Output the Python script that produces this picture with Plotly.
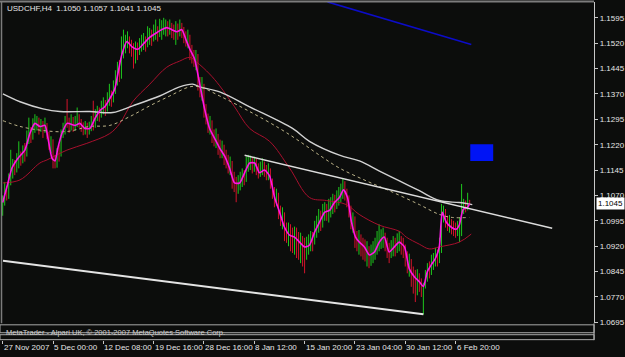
import plotly.graph_objects as go

# ---------------- data ----------------
first_open = 1.1030
closes = [
    1.1049, 1.1085, 1.1070, 1.1112, 1.1140, 1.1155, 1.1148, 1.1172, 1.1183, 1.1175,
    1.1195, 1.1190, 1.1230, 1.1248, 1.1240, 1.1275, 1.1283, 1.1290, 1.1272, 1.1280,
    1.1268, 1.1277, 1.1250, 1.1222, 1.1230, 1.1176, 1.1168, 1.1195, 1.1190, 1.1250,
    1.1262, 1.1290, 1.1283, 1.1270, 1.1285, 1.1276, 1.1280, 1.1292, 1.1283, 1.1274,
    1.1266, 1.1272, 1.1262, 1.1268, 1.1282, 1.1276, 1.1302, 1.1312, 1.1305, 1.1326,
    1.1330, 1.1324, 1.1348, 1.1356, 1.1350, 1.1380, 1.1400, 1.1428, 1.1420, 1.1485,
    1.1505, 1.1522, 1.1528, 1.1514, 1.1508, 1.1495, 1.1500, 1.1492, 1.1512, 1.1516,
    1.1522, 1.1515, 1.1536, 1.1538, 1.1532, 1.1548, 1.1552, 1.1545, 1.1560, 1.1562,
    1.1566, 1.1568, 1.1562, 1.1565, 1.1558, 1.1552, 1.1556, 1.1553, 1.1560, 1.1558,
    1.1545, 1.1530, 1.1538, 1.1500, 1.1490, 1.1472, 1.1480, 1.1410, 1.1385, 1.1395,
    1.1325, 1.1300, 1.1278, 1.1285, 1.1250, 1.1240, 1.1246, 1.1215, 1.1205, 1.1212,
    1.1185, 1.1175, 1.1158, 1.1165, 1.1125, 1.1108, 1.1100, 1.1104, 1.1112, 1.1125,
    1.1118, 1.1150, 1.1163, 1.1168, 1.1160, 1.1166, 1.1155, 1.1140, 1.1145, 1.1152,
    1.1145, 1.1138, 1.1142, 1.1110, 1.1085, 1.1064, 1.1070, 1.1025, 1.1005, 1.1012,
    1.0976, 1.0962, 1.0968, 1.0950, 1.0948, 1.0955, 1.0940, 1.0934, 1.0938, 1.0920,
    1.0916, 1.0918, 1.0924, 1.0935, 1.0930, 1.0965, 1.0978, 1.0990, 1.0984, 1.1015,
    1.1020, 1.1014, 1.1026, 1.1035, 1.1046, 1.1040, 1.1058, 1.1064, 1.1076, 1.1088,
    1.1080, 1.1062, 1.1030, 1.0995, 1.1002, 1.0948, 1.0940, 1.0946, 1.0925, 1.0918,
    1.0910, 1.0915, 1.0894, 1.0898, 1.0903, 1.0912, 1.0925, 1.0932, 1.0940, 1.0947,
    1.0935, 1.0915, 1.0903, 1.0910, 1.0918, 1.0912, 1.0930, 1.0932, 1.0926, 1.0918,
    1.0895, 1.0870, 1.0876, 1.0842, 1.0832, 1.0826, 1.0835, 1.0815, 1.0790, 1.0806,
    1.0828, 1.0845, 1.0840, 1.0865, 1.0875, 1.0883, 1.0878, 1.0918, 1.1010, 1.1020,
    1.0995, 1.0985, 1.0992, 1.0975, 1.0972, 1.0968, 1.0975, 1.0985, 1.1030, 1.1040,
    1.1034, 1.1050, 1.1045,
]
highs = [
    1.1070, 1.1110, 1.1098, 1.1135, 1.1205, 1.1178, 1.1175, 1.1195, 1.1230, 1.1200,
    1.1218, 1.1225, 1.1262, 1.1300, 1.1272, 1.1298, 1.1310, 1.1305, 1.1300, 1.1296,
    1.1290, 1.1300, 1.1284, 1.1258, 1.1245, 1.1236, 1.1190, 1.1210, 1.1220, 1.1265,
    1.1285, 1.1305, 1.1355, 1.1300, 1.1310, 1.1302, 1.1305, 1.1330, 1.1310, 1.1296,
    1.1286, 1.1290, 1.1285, 1.1288, 1.1305, 1.1350, 1.1325, 1.1335, 1.1330, 1.1350,
    1.1360, 1.1352, 1.1375, 1.1400, 1.1380, 1.1410, 1.1440, 1.1465, 1.1470, 1.1540,
    1.1560, 1.1545, 1.1555, 1.1540, 1.1530, 1.1520, 1.1525, 1.1522, 1.1535, 1.1545,
    1.1550, 1.1540, 1.1570, 1.1565, 1.1560, 1.1575, 1.1590, 1.1570, 1.1592, 1.1588,
    1.1595, 1.1590, 1.1585, 1.1590, 1.1580, 1.1575, 1.1585, 1.1578, 1.1590, 1.1580,
    1.1568, 1.1555, 1.1560, 1.1545, 1.1515, 1.1500, 1.1500, 1.1488, 1.1420, 1.1420,
    1.1400, 1.1340, 1.1312, 1.1305, 1.1292, 1.1265, 1.1268, 1.1252, 1.1235, 1.1232,
    1.1220, 1.1205, 1.1190, 1.1185, 1.1172, 1.1140, 1.1125, 1.1130, 1.1140, 1.1150,
    1.1145, 1.1185, 1.1190, 1.1188, 1.1182, 1.1185, 1.1178, 1.1165, 1.1170, 1.1180,
    1.1170, 1.1160, 1.1165, 1.1150, 1.1120, 1.1095, 1.1090, 1.1078, 1.1040, 1.1035,
    1.1020, 1.0990, 1.0990, 1.0985, 1.0975, 1.0978, 1.0975, 1.0962, 1.0960, 1.0950,
    1.0945, 1.0948, 1.0955, 1.0965, 1.0962, 1.0995, 1.1010, 1.1030, 1.1025, 1.1045,
    1.1050, 1.1045, 1.1060, 1.1065, 1.1075, 1.1072, 1.1085, 1.1095, 1.1105, 1.1120,
    1.1112, 1.1090, 1.1070, 1.1040, 1.1020, 1.1008, 1.0965, 1.0968, 1.0955, 1.0945,
    1.0940, 1.0935, 1.0920, 1.0925, 1.0935, 1.0945, 1.0965, 1.0985, 1.0970, 1.0975,
    1.0960, 1.0945, 1.0930, 1.0938, 1.0950, 1.0945, 1.0958, 1.0965, 1.0950, 1.0945,
    1.0925, 1.0905, 1.0898, 1.0882, 1.0860, 1.0850, 1.0852, 1.0840, 1.0825, 1.0812,
    1.0850, 1.0870, 1.0875, 1.0895, 1.0900, 1.0915, 1.0910, 1.0945, 1.1045, 1.1040,
    1.1030, 1.1010, 1.1012, 1.1000, 1.0995, 1.0990, 1.0995, 1.1005, 1.1104, 1.1060,
    1.1055, 1.1078, 1.1057,
]
lows = [
    1.1010, 1.1040, 1.1055, 1.1060, 1.1100, 1.1120, 1.1130, 1.1138, 1.1150, 1.1158,
    1.1165, 1.1170, 1.1185, 1.1222, 1.1225, 1.1235, 1.1255, 1.1262, 1.1250, 1.1258,
    1.1240, 1.1255, 1.1236, 1.1205, 1.1195, 1.1150, 1.1150, 1.1152, 1.1170, 1.1185,
    1.1240, 1.1250, 1.1270, 1.1255, 1.1262, 1.1258, 1.1262, 1.1272, 1.1270, 1.1258,
    1.1248, 1.1250, 1.1240, 1.1250, 1.1260, 1.1262, 1.1270, 1.1290, 1.1288, 1.1300,
    1.1310, 1.1305, 1.1318, 1.1335, 1.1332, 1.1345, 1.1370, 1.1395, 1.1405, 1.1415,
    1.1475, 1.1490, 1.1505, 1.1490, 1.1480, 1.1445, 1.1460, 1.1470, 1.1485, 1.1495,
    1.1500, 1.1495, 1.1508, 1.1515, 1.1512, 1.1525, 1.1530, 1.1525, 1.1538, 1.1530,
    1.1545, 1.1540, 1.1540, 1.1545, 1.1535, 1.1530, 1.1515, 1.1530, 1.1540, 1.1535,
    1.1520, 1.1510, 1.1505, 1.1470, 1.1460, 1.1450, 1.1440, 1.1380, 1.1360, 1.1350,
    1.1300, 1.1280, 1.1255, 1.1250, 1.1225, 1.1215, 1.1210, 1.1190, 1.1180, 1.1180,
    1.1160, 1.1150, 1.1135, 1.1130, 1.1090, 1.1080, 1.1050, 1.1075, 1.1085, 1.1095,
    1.1100, 1.1110, 1.1140, 1.1145, 1.1135, 1.1140, 1.1130, 1.1120, 1.1125, 1.1130,
    1.1125, 1.1115, 1.1115, 1.1090, 1.1060, 1.1035, 1.1040, 1.1000, 1.0980, 1.0970,
    1.0935, 1.0930, 1.0920, 1.0905, 1.0900, 1.0895, 1.0885, 1.0880, 1.0870, 1.0860,
    1.0840, 1.0880, 1.0895, 1.0905, 1.0905, 1.0925, 1.0945, 1.0960, 1.0965, 1.0975,
    1.0995, 1.0995, 1.0990, 1.1005, 1.1015, 1.1020, 1.1030, 1.1040, 1.1050, 1.1060,
    1.1055, 1.1035, 1.1005, 1.0970, 1.0960, 1.0915, 1.0905, 1.0895, 1.0890, 1.0880,
    1.0875, 1.0860, 1.0855, 1.0862, 1.0870, 1.0880, 1.0895, 1.0905, 1.0912, 1.0915,
    1.0905, 1.0885, 1.0870, 1.0885, 1.0890, 1.0890, 1.0900, 1.0905, 1.0895, 1.0885,
    1.0860, 1.0840, 1.0830, 1.0800, 1.0780, 1.0755, 1.0775, 1.0785, 1.0770, 1.0718,
    1.0795, 1.0815, 1.0825, 1.0835, 1.0850, 1.0860, 1.0860, 1.0870, 1.0900, 1.0990,
    1.0975, 1.0965, 1.0960, 1.0955, 1.0950, 1.0945, 1.0950, 1.0932, 1.0950, 1.1015,
    1.1020, 1.1026, 1.1041,
]
opens = [first_open] + closes[:-1]   # each bar opens at the previous close

# fast moving average (magenta), read at selected bars
fast_bars = [0, 2.6, 4.6, 7.6, 11, 13.5, 16, 18.5, 21, 22.5,
             24.5, 26, 27.4, 29.4, 32, 36, 38.3, 40.8, 43.3, 45.8,
             48.3, 50.7, 53.2, 55.7, 57.2, 59.2, 61.7, 64.1, 67.1, 69.6,
             73, 76.5, 79, 81.5, 84, 86.5, 89, 91, 93, 95.4,
             97.9, 100.3, 102.8, 105.3, 107.8, 110.3, 112.7, 115.2, 117.7, 120.2,
             122.7, 125.2, 127.6, 130.1, 132.6, 135.1, 137.6, 140, 142.5, 145,
             147.5, 150, 152.4, 154.9, 157.4, 159.9, 162.4, 164.8, 167.3, 169.3,
             171.3, 173.3, 175.3, 177.2, 179.7, 182.2, 184.7, 187.1, 189.6, 192,
             194.6, 197, 199.6, 202, 204.5, 207, 209, 211, 212.9, 214.9,
             216.9, 218.4, 220.4, 222.9, 225.3, 226.8, 228.8, 230.8, 232]
fast_vals = [1.1049, 1.1107, 1.1151, 1.1180, 1.1204, 1.1253, 1.1283, 1.1274, 1.1277, 1.1239,
             1.1180, 1.1172, 1.1210, 1.1253, 1.1283, 1.1277, 1.1283, 1.1268, 1.1268, 1.1297,
             1.1321, 1.1332, 1.1356, 1.1385, 1.1429, 1.1487, 1.1525, 1.1510, 1.1502, 1.1516,
             1.1537, 1.1551, 1.1560, 1.1566, 1.1560, 1.1554, 1.1560, 1.1531, 1.1502, 1.1472,
             1.1399, 1.1326, 1.1268, 1.1239, 1.1210, 1.1186, 1.1151, 1.1107, 1.1107, 1.1137,
             1.1166, 1.1166, 1.1137, 1.1145, 1.1128, 1.1064, 1.1020, 1.0976, 1.0953, 1.0947,
             1.0932, 1.0918, 1.0923, 1.0961, 1.0991, 1.1020, 1.1026, 1.1049, 1.1064, 1.1087,
             1.1064, 1.0991, 1.0947, 1.0932, 1.0918, 1.0894, 1.0903, 1.0932, 1.0947, 1.0903,
             1.0918, 1.0932, 1.0918, 1.0853, 1.0830, 1.0815, 1.0801, 1.0845, 1.0865, 1.0883,
             1.0918, 1.1020, 1.0991, 1.0976, 1.0970, 1.0982, 1.1029, 1.1034, 1.1046]

# medium moving average (dark red)
mid_bars = [0.1, 8.6, 18.5, 22, 31.9, 41.8, 53.2, 58.2, 64.6, 73.1, 81.5, 87.9, 92.9, 96.4,
            102.8, 107.8, 115.2, 122.7, 132.6, 142.5, 152.4, 160.9, 170.8, 177.1, 187.2,
            197.1, 200.5, 207, 211.9, 216.9, 226.8, 232.8]
mid_vals = [1.1107, 1.1116, 1.1166, 1.1175, 1.1204, 1.1224, 1.1253, 1.1283, 1.1347, 1.1399,
            1.1449, 1.1467, 1.1478, 1.1464, 1.1429, 1.1394, 1.1332, 1.1268, 1.1230, 1.1151,
            1.1064, 1.1055, 1.1043, 1.1014, 1.0982, 1.0964, 1.0947, 1.0926, 1.0912, 1.0918,
            1.0932, 1.0956]

# slow moving average (solid light grey)
slow_bars = [0.1, 8.6, 20, 28.4, 43.3, 54.7, 64.6, 78, 87.9, 94.4, 97.9, 107.8, 122.7,
             144, 152.4, 167.3, 177.2, 187.2, 197.1, 207, 216.9, 226.8, 233.3]
slow_vals = [1.1370, 1.1347, 1.1326, 1.1318, 1.1318, 1.1315, 1.1335, 1.1364, 1.1391, 1.1399,
             1.1391, 1.1376, 1.1332, 1.1268, 1.1230, 1.1189, 1.1172, 1.1142, 1.1113, 1.1084,
             1.1055, 1.1049, 1.1043]

# slow moving average (dashed tan)
dash_bars = [0.1, 8.6, 20, 31.9, 43.3, 53.2, 63.1, 73.1, 83, 92.9, 97.9, 107.8, 122.7,
             137.6, 147.5, 157.4, 167.3, 180.7, 192.1, 207, 216.9, 223.4, 231.8]
dash_vals = [1.1291, 1.1274, 1.1262, 1.1259, 1.1274, 1.1277, 1.1303, 1.1335, 1.1364, 1.1391,
             1.1391, 1.1364, 1.1318, 1.1268, 1.1230, 1.1189, 1.1151, 1.1113, 1.1084, 1.1043,
             1.1014, 1.1005, 1.1005]

# drawn objects
trend_upper_bars = [120.2, 273.0]
trend_upper_vals = [1.1189, 1.0973]
trend_lower_bars = [0.15, 209.0]
trend_lower_vals = [1.0877, 1.0719]
blue_line_bars = [161.4, 232.8]
blue_line_vals = [1.1642, 1.1516]
blue_box_bars = [232.3, 243.7]
blue_box_vals = [1.1172, 1.1221]

price_ticks = [1.0695, 1.0770, 1.0845, 1.0920, 1.0995, 1.1070, 1.1145,
               1.1220, 1.1295, 1.1370, 1.1445, 1.1520, 1.1595]
time_tick_bars = [0, 25, 50, 75, 100, 125, 150, 175, 200, 225]
time_tick_labels = ["27 Nov 2007", "5 Dec 00:00", "12 Dec 08:00", "19 Dec 16:00",
                    "28 Dec 16:00", "8 Jan 12:00", "15 Jan 20:00", "23 Jan 04:00",
                    "30 Jan 12:00", "6 Feb 20:00"]
title_text = "USDCHF,H4\u00a0\u00a01.1050 1.1057 1.1041 1.1045"
footer_text = "MetaTrader - Alpari UK, \u00a9 2001-2007 MetaQuotes Software Corp."

# ---------------- styling ----------------
W, H = 625, 357
BG = "#0c0d0c"
UP = "#1ec81e"
DN = "#d4142c"
AX = "#c8c8c8"
TXT = "#e6e6e6"
FONT = "Liberation Sans"


def py(p):   # pixel from top -> paper y
    return (H - p) / H


def pxx(p):  # pixel from left -> paper x
    return p / W


bars = list(range(len(closes)))

fig = go.Figure()
fig.add_trace(go.Ohlc(
    x=bars, open=opens, high=highs, low=lows, close=closes,
    increasing=dict(line=dict(color=UP, width=1)),
    decreasing=dict(line=dict(color=DN, width=1)),
    tickwidth=0, hoverinfo="skip", showlegend=False))

fig.add_trace(go.Scatter(x=mid_bars, y=mid_vals, mode="lines", line=dict(color="#a8102e", width=1, shape="spline"), hoverinfo="skip"))
fig.add_trace(go.Scatter(x=slow_bars, y=slow_vals, mode="lines", line=dict(color="#d2d2d2", width=1.4, shape="spline"), hoverinfo="skip"))
fig.add_trace(go.Scatter(x=dash_bars, y=dash_vals, mode="lines", line=dict(color="#bdb48a", width=1, dash="3px,3px", shape="spline"), hoverinfo="skip"))
fig.add_trace(go.Scatter(x=fast_bars, y=fast_vals, mode="lines", line=dict(color="#ff14e6", width=1.6, shape="spline", smoothing=0.6), hoverinfo="skip"))
fig.add_trace(go.Scatter(x=trend_upper_bars, y=trend_upper_vals, mode="lines", line=dict(color="#dcdcdc", width=1.5), hoverinfo="skip"))
fig.add_trace(go.Scatter(x=trend_lower_bars, y=trend_lower_vals, mode="lines", line=dict(color="#e4e4e4", width=2), hoverinfo="skip"))
fig.add_trace(go.Scatter(x=blue_line_bars, y=blue_line_vals, mode="lines", line=dict(color="#0c0cc8", width=1.6), hoverinfo="skip"))
# helper trace so the lower strip axis is drawn
fig.add_trace(go.Scatter(x=[0], y=[0.5], xaxis="x2", yaxis="y2", mode="markers", marker=dict(opacity=0), hoverinfo="skip"))

xdom = [pxx(2), pxx(595)]
xrng = [-0.347, 293.8]

fig.update_layout(
    width=W, height=H, margin=dict(l=0, r=0, t=0, b=0),
    paper_bgcolor=BG, plot_bgcolor=BG, showlegend=False,
    xaxis=dict(domain=xdom, range=xrng, visible=False, rangeslider=dict(visible=False), fixedrange=True),
    yaxis=dict(domain=[py(327), py(2)], range=[1.06921, 1.16418], side="right",
               showgrid=False, zeroline=False, showline=True, linecolor=AX, linewidth=1,
               ticks="outside", ticklen=3, tickcolor=AX, tickwidth=1,
               tickvals=price_ticks, ticktext=[f"{v:.4f}" for v in price_ticks],
               tickfont=dict(family=FONT, size=8, color=TXT), fixedrange=True),
    xaxis2=dict(domain=xdom, range=xrng, anchor="y2", showgrid=False, zeroline=False,
                showline=False, ticks="outside", ticklen=3, tickcolor=AX, tickwidth=1,
                tickvals=time_tick_bars, showticklabels=False, fixedrange=True),
    yaxis2=dict(domain=[py(344), py(328)], range=[0, 1], visible=False, fixedrange=True),
)

shapes = [
    dict(type="line", xref="paper", yref="paper", x0=0, x1=pxx(595), y0=py(1.5), y1=py(1.5),
         line=dict(color="#7c7c7c", width=2)),
    dict(type="line", xref="paper", yref="paper", x0=pxx(1.5), x1=pxx(1.5), y0=py(327), y1=py(2),
         line=dict(color="#7c7c7c", width=1.5)),
    dict(type="line", xref="paper", yref="paper", x0=pxx(595), x1=pxx(595), y0=py(344), y1=py(327),
         line=dict(color=AX, width=1)),
    dict(type="rect", xref="paper", yref="paper", x0=0, x1=pxx(595), y0=py(336.5), y1=py(328.5),
         line=dict(color="#a8a8a8", width=1)),
    dict(type="rect", xref="paper", yref="paper", x0=0, x1=pxx(595), y0=py(343.5), y1=py(338.5),
         line=dict(color="#a8a8a8", width=1)),
    dict(type="rect", xref="x", yref="y", x0=blue_box_bars[0], x1=blue_box_bars[1],
         y0=blue_box_vals[0], y1=blue_box_vals[1], fillcolor="#0014f5", line=dict(width=0)),
]
fig.update_layout(shapes=shapes)

ann = [
    dict(text=title_text, xref="paper", yref="paper", x=pxx(5), y=py(8.5), xanchor="left", yanchor="middle",
         showarrow=False, font=dict(family=FONT, size=8, color=TXT)),
    dict(text=footer_text, xref="paper", yref="paper", x=pxx(4), y=py(336), xanchor="left", yanchor="middle",
         showarrow=False, font=dict(family=FONT, size=7.5, color="#cfcfcf")),
    dict(text=f"{closes[-1]:.4f}", xref="paper", yref="y", x=pxx(597), y=closes[-1], xanchor="left",
         yanchor="middle", showarrow=False, bgcolor="#ffffff", borderpad=1,
         font=dict(family=FONT, size=8, color="#000000")),
]
for b, t in zip(time_tick_bars, time_tick_labels):
    ann.append(dict(text=t, xref="x", yref="paper", x=b, y=py(351), xanchor="left", yanchor="middle",
                    xshift=-1, showarrow=False, font=dict(family=FONT, size=8, color=TXT)))
fig.update_layout(annotations=ann)

fig.write_html("out.html", config={"displayModeBar": False})
